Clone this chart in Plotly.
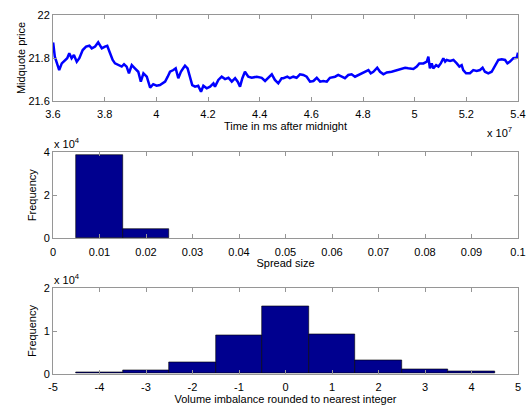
import plotly.graph_objects as go

# ---- Data ----
# Top panel: time (units of 1e7 ms after midnight) and midquote price
time_1e7 = [3.600, 3.601, 3.607, 3.614, 3.624, 3.634, 3.646, 3.655, 3.663, 3.672, 3.681, 3.692,
            3.702, 3.715, 3.728, 3.741, 3.750, 3.763, 3.775, 3.789, 3.801, 3.810, 3.821,
            3.831, 3.840, 3.853, 3.866, 3.875, 3.885, 3.894, 3.905, 3.917, 3.930, 3.940,
            3.950, 3.963, 3.976, 3.988, 4.001, 4.014, 4.034, 4.044, 4.053, 4.066, 4.075,
            4.085, 4.095, 4.104, 4.111, 4.121, 4.130, 4.139, 4.150, 4.162, 4.173, 4.182,
            4.195, 4.208, 4.221, 4.227, 4.240, 4.253, 4.266, 4.279, 4.292, 4.305, 4.315,
            4.324, 4.333, 4.343, 4.356, 4.369, 4.389, 4.408, 4.421, 4.433, 4.447, 4.459,
            4.472, 4.485, 4.492, 4.507, 4.517, 4.530, 4.543, 4.556, 4.569, 4.582, 4.595,
            4.608, 4.621, 4.634, 4.646, 4.660, 4.672, 4.692, 4.704, 4.718, 4.730, 4.743,
            4.756, 4.769, 4.782, 4.795, 4.808, 4.821, 4.830, 4.840, 4.855, 4.866, 4.879,
            4.892, 4.911, 4.931, 4.941, 4.963, 4.975, 4.995, 5.008, 5.018, 5.034, 5.047,
            5.053, 5.059, 5.066, 5.072, 5.083, 5.092, 5.101, 5.111, 5.118, 5.124, 5.137,
            5.150, 5.163, 5.173, 5.182, 5.188, 5.199, 5.214, 5.227, 5.240, 5.253, 5.263,
            5.272, 5.285, 5.298, 5.311, 5.324, 5.337, 5.350, 5.359, 5.369, 5.382, 5.395,
            5.400]
midquote = [21.872, 21.868, 21.806, 21.783, 21.744, 21.775, 21.791, 21.799, 21.822, 21.799, 21.814, 21.783,
            21.799, 21.837, 21.853, 21.857, 21.845, 21.853, 21.873, 21.845, 21.853, 21.857, 21.822,
            21.791, 21.775, 21.767, 21.760, 21.771, 21.760, 21.729, 21.767, 21.752, 21.736, 21.690,
            21.729, 21.713, 21.662, 21.678, 21.671, 21.674, 21.690, 21.713, 21.736, 21.744, 21.752,
            21.706, 21.736, 21.752, 21.764, 21.752, 21.713, 21.674, 21.667, 21.671, 21.643, 21.671,
            21.659, 21.667, 21.682, 21.667, 21.698, 21.713, 21.702, 21.708, 21.690, 21.706, 21.690,
            21.667, 21.706, 21.736, 21.713, 21.708, 21.713, 21.708, 21.693, 21.706, 21.724, 21.698,
            21.682, 21.706, 21.706, 21.713, 21.706, 21.713, 21.708, 21.724, 21.721, 21.713, 21.690,
            21.693, 21.708, 21.690, 21.693, 21.690, 21.708, 21.713, 21.721, 21.713, 21.706, 21.721,
            21.724, 21.713, 21.721, 21.729, 21.736, 21.744, 21.729, 21.736, 21.755, 21.736, 21.724,
            21.733, 21.736, 21.744, 21.747, 21.755, 21.752, 21.749, 21.760, 21.775, 21.775, 21.783,
            21.806, 21.752, 21.775, 21.752, 21.767, 21.760, 21.775, 21.799, 21.783, 21.791, 21.786,
            21.791, 21.775, 21.760, 21.767, 21.744, 21.729, 21.729, 21.744, 21.740, 21.744, 21.755,
            21.736, 21.729, 21.736, 21.767, 21.791, 21.794, 21.791, 21.775, 21.783, 21.799, 21.801,
            21.825]

# Middle panel: spread size histogram
spread_centers = [0.01, 0.02]
spread_counts = [38600, 4300]

# Bottom panel: volume imbalance histogram
imbalance_centers = [-4, -3, -2, -1, 0, 1, 2, 3, 4]
imbalance_counts = [400, 900, 2600, 9050, 15700, 9300, 3200, 1100, 630]

# Tick labels
top_x_ticks = [3.6, 3.8, 4.0, 4.2, 4.4, 4.6, 4.8, 5.0, 5.2, 5.4]
top_x_labels = ["3.6", "3.8", "4", "4.2", "4.4", "4.6", "4.8", "5", "5.2", "5.4"]
top_y_ticks = [21.6, 21.8, 22.0]
top_y_labels = ["21.6", "21.8", "22"]
mid_x_ticks = [0, 0.01, 0.02, 0.03, 0.04, 0.05, 0.06, 0.07, 0.08, 0.09, 0.1]
mid_x_labels = ["0", "0.01", "0.02", "0.03", "0.04", "0.05", "0.06", "0.07", "0.08", "0.09", "0.1"]
mid_y_ticks = [0, 20000, 40000]
mid_y_labels = ["0", "2", "4"]
bot_x_ticks = [-5, -4, -3, -2, -1, 0, 1, 2, 3, 4, 5]
bot_x_labels = ["-5", "-4", "-3", "-2", "-1", "0", "1", "2", "3", "4", "5"]
bot_y_ticks = [0, 10000, 20000]
bot_y_labels = ["0", "1", "2"]

# ---- Figure ----
W, H = 527, 410
FONT = "Liberation Sans, Arial, sans-serif"
AX_COLOR = "rgb(150,150,150)"
BAR_COLOR = "rgb(0,0,143)"

fig = go.Figure()
fig.add_trace(go.Scatter(x=time_1e7, y=midquote, mode="lines",
                         line=dict(color="rgb(0,0,255)", width=2.5),
                         xaxis="x", yaxis="y", showlegend=False))
fig.add_trace(go.Bar(x=spread_centers, y=spread_counts, width=0.01,
                     marker=dict(color=BAR_COLOR, line=dict(color="black", width=0.6)),
                     xaxis="x2", yaxis="y2", showlegend=False))
fig.add_trace(go.Bar(x=imbalance_centers, y=imbalance_counts, width=1,
                     marker=dict(color=BAR_COLOR, line=dict(color="black", width=0.6)),
                     xaxis="x3", yaxis="y3", showlegend=False))

xdom = [53 / W, 518 / W]

def ydom(top_px, bot_px):
    return [(H - bot_px) / H, (H - top_px) / H]

def xax(anchor, ticks, labels, rng, title):
    return dict(domain=xdom, anchor=anchor, range=rng, tickvals=ticks, ticktext=labels,
                ticks="inside", ticklen=4, tickcolor=AX_COLOR, showline=True,
                linecolor=AX_COLOR, linewidth=1, mirror="ticks", showgrid=False,
                zeroline=False, automargin=False, ticklabelstandoff=3,
                tickfont=dict(size=11, color="black", family=FONT),
                title=dict(text=title, font=dict(size=11, color="black", family=FONT), standoff=0))

def yax(anchor, dom, ticks, labels, rng, title, standoff):
    return dict(domain=dom, anchor=anchor, range=rng, tickvals=ticks, ticktext=labels,
                ticks="inside", ticklen=4, tickcolor=AX_COLOR, showline=True,
                linecolor=AX_COLOR, linewidth=1, mirror="ticks", showgrid=False,
                zeroline=False, automargin=False,
                tickfont=dict(size=11, color="black", family=FONT),
                title=dict(text=title, font=dict(size=11, color="black", family=FONT), standoff=standoff))

fig.update_layout(
    width=W, height=H, margin=dict(l=0, r=0, t=0, b=0),
    paper_bgcolor="white", plot_bgcolor="white", bargap=0,
    font=dict(family=FONT, size=11, color="black"),
    xaxis=xax("y", top_x_ticks, top_x_labels, [3.6, 5.4], "Time in ms after midnight"),
    yaxis=yax("x", ydom(15, 101), top_y_ticks, top_y_labels, [21.6, 22.0], "Midquote price", 0),
    xaxis2=xax("y2", mid_x_ticks, mid_x_labels, [0, 0.1], "Spread size"),
    yaxis2=yax("x2", ydom(152, 238.3), mid_y_ticks, mid_y_labels, [0, 40000], "Frequency", 4),
    xaxis3=xax("y3", bot_x_ticks, bot_x_labels, [-5, 5], "Volume imbalance rounded to nearest integer"),
    yaxis3=yax("x3", ydom(288.3, 373.7), bot_y_ticks, bot_y_labels, [0, 20000], "Frequency", 4),
)

fig.add_annotation(text="x 10<sup>7</sup>", xref="paper", yref="paper",
                   x=485 / W, y=(H - 132) / H, xanchor="left", yanchor="middle",
                   showarrow=False, font=dict(size=11, color="black", family=FONT))
fig.add_annotation(text="x 10<sup>4</sup>", xref="paper", yref="paper",
                   x=52 / W, y=(H - 143) / H, xanchor="left", yanchor="middle",
                   showarrow=False, font=dict(size=11, color="black", family=FONT))
fig.add_annotation(text="x 10<sup>4</sup>", xref="paper", yref="paper",
                   x=52 / W, y=(H - 279) / H, xanchor="left", yanchor="middle",
                   showarrow=False, font=dict(size=11, color="black", family=FONT))

fig.write_html("out.html")
